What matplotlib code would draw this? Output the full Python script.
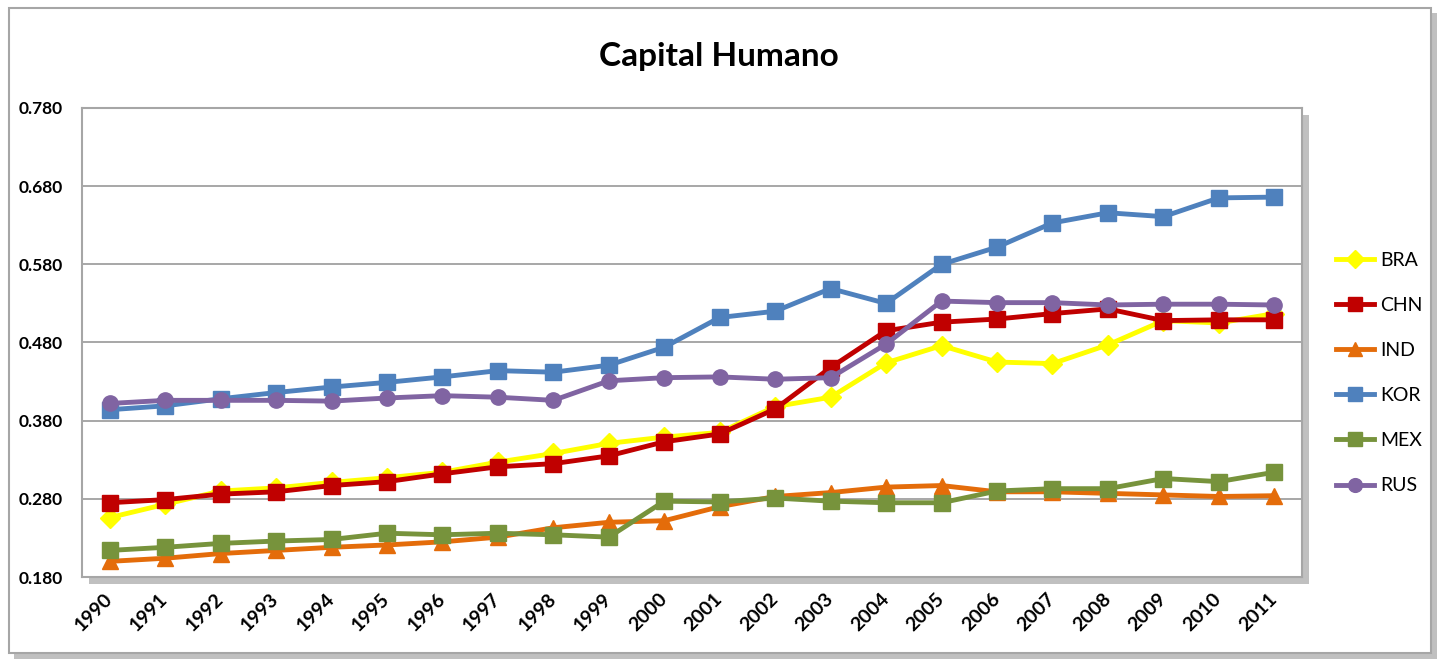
import matplotlib.pyplot as plt
import matplotlib.patheffects as pe
from matplotlib.patches import Rectangle

years = [str(y) for y in range(1990, 2012)]

bra = [0.256, 0.273, 0.290, 0.294, 0.301, 0.307, 0.314, 0.327, 0.338, 0.351, 0.359,
       0.365, 0.398, 0.410, 0.454, 0.476, 0.455, 0.453, 0.477, 0.508, 0.505, 0.517]
chn = [0.275, 0.279, 0.286, 0.289, 0.297, 0.302, 0.312, 0.321, 0.325, 0.335, 0.353,
       0.363, 0.395, 0.448, 0.495, 0.506, 0.510, 0.517, 0.523, 0.508, 0.509, 0.509]
ind = [0.200, 0.204, 0.210, 0.214, 0.218, 0.221, 0.225, 0.231, 0.243, 0.250, 0.252,
       0.270, 0.283, 0.288, 0.295, 0.297, 0.289, 0.289, 0.287, 0.285, 0.283, 0.284]
kor = [0.394, 0.399, 0.408, 0.416, 0.423, 0.429, 0.436, 0.444, 0.442, 0.451, 0.474,
       0.512, 0.520, 0.549, 0.530, 0.580, 0.602, 0.633, 0.646, 0.641, 0.665, 0.666]
mex = [0.214, 0.218, 0.223, 0.226, 0.228, 0.236, 0.234, 0.236, 0.234, 0.231, 0.277,
       0.276, 0.281, 0.277, 0.275, 0.275, 0.290, 0.293, 0.293, 0.306, 0.302, 0.314]
rus = [0.402, 0.406, 0.406, 0.406, 0.405, 0.409, 0.412, 0.410, 0.406, 0.431, 0.435,
       0.436, 0.433, 0.435, 0.478, 0.533, 0.531, 0.531, 0.528, 0.529, 0.529, 0.528]

yticks = [0.18, 0.28, 0.38, 0.48, 0.58, 0.68, 0.78]

series = [
    ("BRA", bra, "#FFFF00", "D", 10),
    ("CHN", chn, "#C00000", "s", 11),
    ("IND", ind, "#E46C0A", "^", 11),
    ("KOR", kor, "#4F81BD", "s", 11),
    ("MEX", mex, "#77933C", "s", 11),
    ("RUS", rus, "#8064A2", "o", 11),
]

plt.rcParams['font.family'] = ['Lato', 'DejaVu Sans']

fig = plt.figure(figsize=(14.4, 6.61), dpi=100)

# outer chart frame with shadow, kept behind the axes
frame = Rectangle((0.006, 0.012), 0.988, 0.976, transform=fig.transFigure,
                  facecolor="white", edgecolor="#A6A6A6", lw=1.5, zorder=-10,
                  path_effects=[pe.SimplePatchShadow(offset=(4, -4), alpha=0.35), pe.Normal()])
fig.patches.append(frame)

ax = fig.add_axes([82 / 1440, 1 - 577 / 661, (1302 - 82) / 1440, (577 - 108) / 661])
ax.patch.set_path_effects([pe.SimplePatchShadow(offset=(5, -5), alpha=0.35), pe.Normal()])

x = list(range(len(years)))
for name, vals, col, mk, ms in series:
    ax.plot(x, vals, color=col, lw=3.5, marker=mk, markersize=ms, label=name,
            solid_joinstyle="round")

ax.set_xlim(-0.5, len(years) - 0.5)
ax.set_ylim(0.18, 0.78)
ax.set_yticks(yticks)
ax.set_yticklabels(["%.3f" % v for v in yticks], fontsize=12.5, fontweight="bold")
ax.set_xticks(x)
ax.set_xticklabels(years, rotation=45, fontsize=14, fontweight="bold",
                   ha="right", va="center", rotation_mode="anchor")
ax.tick_params(length=0)
ax.tick_params(axis="y", pad=14)
ax.tick_params(axis="x", pad=14)
ax.grid(axis="y", color="#A0A0A0", lw=1.3)
ax.set_axisbelow(True)
for s in ax.spines.values():
    s.set_color("#A6A6A6")
    s.set_linewidth(1.5)

fig.text(0.499, 0.915, "Capital Humano", ha="center", va="center",
         fontsize=24, fontweight="bold")

fig.legend(loc="center left", bbox_to_anchor=(1318 / 1440, 1 - 373 / 661),
           frameon=False, fontsize=14, labelspacing=1.45, handlelength=2.0,
           handletextpad=0.3, markerscale=0.9)

fig.savefig("out.png", dpi=100)
